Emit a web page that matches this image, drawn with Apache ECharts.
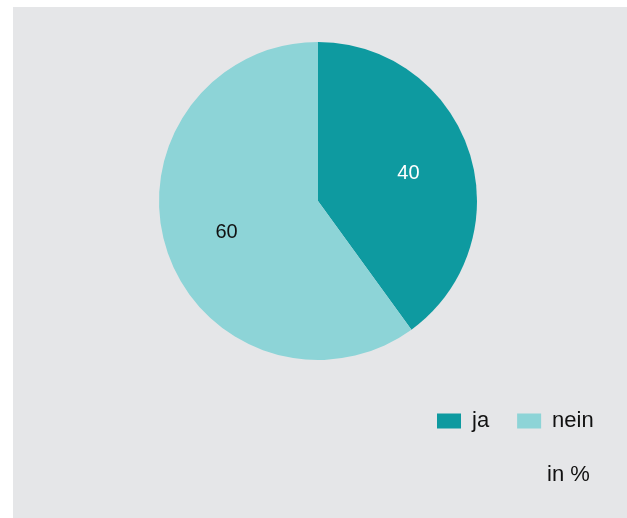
<!DOCTYPE html>
<html>
<head>
<meta charset="utf-8">
<script src="https://cdn.jsdelivr.net/npm/echarts@6/dist/echarts.min.js"></script>
<style>
html,body{margin:0;padding:0;background:#ffffff;}
#chart{width:627px;height:518px;}
</style>
</head>
<body>
<div id="chart"></div>
<script>
const categories = ['ja', 'nein'];
const values = [40, 60];
const unitLabel = 'in %';

const colors = ['#0E9AA0', '#8DD4D7'];
const labelColors = ['#ffffff', '#111111'];
const labelOffsets = [[12, -2], [-13, 6]];

const chart = echarts.init(document.getElementById('chart'), null, {renderer: 'canvas'});
const font = '"Liberation Sans", Arial, Helvetica, sans-serif';

chart.setOption({
  animation: false,
  backgroundColor: '#ffffff',
  graphic: [
    {type: 'rect', z: -10, shape: {x: 13, y: 7, width: 614, height: 511}, style: {fill: '#E5E6E8'}},
    {type: 'text', x: 547, y: 475, style: {text: unitLabel, font: '22px ' + font, fill: '#111111', verticalAlign: 'middle', align: 'left'}}
  ],
  legend: {
    left: 437,
    top: 410,
    itemWidth: 24,
    itemHeight: 15,
    itemGap: 28,
    icon: 'rect',
    padding: 0,
    textStyle: {fontFamily: font, fontSize: 22, lineHeight: 22, color: '#111111', padding: [0, 0, 0, 6]},
    data: categories
  },
  series: [{
    type: 'pie',
    center: [318, 201],
    radius: [0, 159],
    startAngle: 90,
    clockwise: true,
    silent: true,
    labelLine: {show: false},
    label: {show: true, position: 'inside', fontFamily: font, fontSize: 20, formatter: '{c}'},
    data: categories.map((c, i) => ({
      name: c,
      value: values[i],
      itemStyle: {color: colors[i]},
      label: {color: labelColors[i], offset: labelOffsets[i]}
    }))
  }]
});
</script>
</body>
</html>
